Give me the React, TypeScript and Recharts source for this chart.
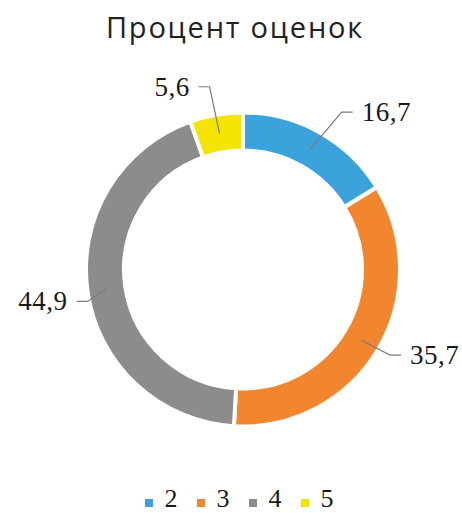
import React from 'react';
import { Cell, Legend, Pie, PieChart } from 'recharts';

const grades = ['2', '3', '4', '5'];
const percents = [16.7, 35.7, 44.9, 5.6];
const colors = ['#3ba2dc', '#f2862f', '#8c8c8c', '#f5e400'];

// where each leader line bends, relative to the slice's outer edge
const labelOffsets = [[23, -22], [14, 6], [-2, 10], [-7, -30]];

const data = grades.map((g, i) => ({ name: g, value: percents[i] }));

const RADIAN = Math.PI / 180;
const GAP = 4;

const renderLabel = (props: any) => {
  const { cx, cy, midAngle, index, value, innerRadius, outerRadius } = props;
  const inner = innerRadius + GAP / 2;
  const outer = outerRadius - GAP / 2;
  const cos = Math.cos(-midAngle * RADIAN);
  const sin = Math.sin(-midAngle * RADIAN);
  const rMid = (inner + outer) / 2;
  const sx = cx + rMid * cos;
  const sy = cy + rMid * sin;
  const [dx, dy] = labelOffsets[index];
  const mx = cx + outer * cos + dx;
  const my = cy + outer * sin + dy;
  const right = cos >= 0;
  const hx = mx + (right ? 11 : -11);
  const tx = hx + (right ? 9 : -9);
  return (
    <g key={`lbl-${index}`}>
      <polyline
        points={`${sx},${sy} ${mx},${my} ${hx},${my}`}
        fill="none"
        stroke="#7a7a7a"
        strokeWidth={1.2}
      />
      <text
        x={tx}
        y={my}
        textAnchor={right ? 'start' : 'end'}
        dominantBaseline="central"
        fontFamily="'Liberation Serif', serif"
        fontSize={27}
        letterSpacing={0.5}
        fill="#1a1a1a"
      >
        {String(value).replace('.', ',')}
      </text>
    </g>
  );
};

const renderLegend = (props: any) => {
  const { payload } = props;
  return (
    <div
      style={{
        display: 'flex',
        justifyContent: 'center',
        alignItems: 'center',
        height: 26,
        paddingLeft: 16,
      }}
    >
      {(payload || []).map((entry: any, i: number) => (
        <div key={i} style={{ display: 'flex', alignItems: 'center', marginRight: i < 3 ? 19 : 0 }}>
          <span
            style={{ width: 8, height: 8, background: entry.color, marginRight: 12, marginTop: 8 }}
          />
          <span
            style={{
              fontFamily: "'Liberation Serif', serif",
              fontSize: 26,
              lineHeight: '26px',
              color: '#1a1a1a',
            }}
          >
            {entry.value}
          </span>
        </div>
      ))}
    </div>
  );
};

export default function App() {
  return (
    <div style={{ position: 'relative', width: 462, height: 513, background: '#fff' }}>
      <style>{`body{margin:0}`}</style>
      <div
        style={{
          position: 'absolute',
          top: 12,
          left: 0,
          width: 462,
          textAlign: 'center',
          fontFamily: "'Open Sans', sans-serif",
          fontSize: 29,
          lineHeight: '29px',
          letterSpacing: 1.8,
          color: '#222',
          paddingLeft: 4,
        }}
      >
        Процент оценок
      </div>
      <PieChart width={462} height={513}>
        <Pie
          data={data}
          dataKey="value"
          nameKey="name"
          cx={238}
          cy={264.5}
          innerRadius={121 - GAP / 2}
          outerRadius={155 + GAP / 2}
          startAngle={90}
          endAngle={-270}
          stroke="#fff"
          strokeWidth={GAP}
          label={renderLabel}
          labelLine={false}
          isAnimationActive={false}
        >
          {data.map((d, i) => (
            <Cell key={d.name} fill={colors[i]} />
          ))}
        </Pie>
        <Legend content={renderLegend} wrapperStyle={{ top: 486, left: 0, width: 462 }} />
      </PieChart>
    </div>
  );
}
